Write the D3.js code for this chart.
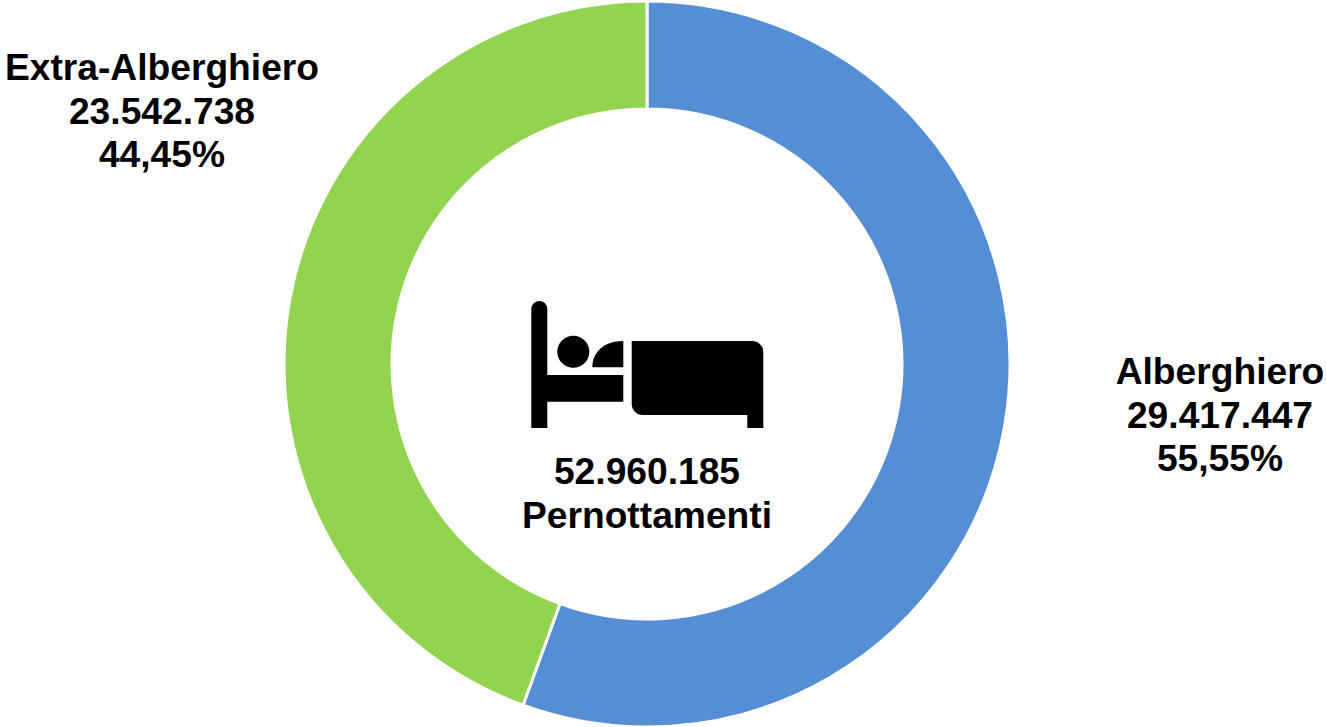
<!DOCTYPE html>
<html><head><meta charset="utf-8">
<script src="https://cdn.jsdelivr.net/npm/d3@7"></script>
<style>html,body{margin:0;padding:0;background:#fff}svg{display:block}
text{font-family:"Liberation Sans",Arial,sans-serif;font-weight:700;font-size:37.2px;fill:#000;text-anchor:middle}</style>
</head><body><svg id="c" width="1326" height="727"></svg>
<script>
const categories=["Alberghiero","Extra-Alberghiero"];
const values=[29417447,23542738];
const valueLabels=["29.417.447","23.542.738"];
const percentLabels=["55,55%","44,45%"];
const colors=["#558ed5","#92d350"];
const centerLabels=["52.960.185","Pernottamenti"];
const svg=d3.select("#c");
const cx=647,cy=364;
const g=svg.append("g").attr("transform",`translate(${cx},${cy})`);
const pie=d3.pie().sort(null)(values);
const arc=d3.arc().innerRadius(255).outerRadius(363);
g.selectAll("path").data(pie).join("path").attr("d",arc)
 .attr("fill",(d,i)=>colors[i]).attr("stroke","#fff").attr("stroke-width",3);
const pos=[[1220,384],[162,80]];
categories.forEach((c,i)=>{
  [c,valueLabels[i],percentLabels[i]].forEach((t,j)=>{
    svg.append("text").attr("x",pos[i][0]).attr("y",pos[i][1]+j*43.5).text(t);
  });
});
centerLabels.forEach((t,j)=>svg.append("text").attr("x",647).attr("y",484+j*43.5).text(t));
// bed icon
const ic=svg.append("g").attr("fill","#000");
ic.append("path").attr("d","M531.3 309a8 8 0 0 1 16 0V375H623.3V401.7H547.3V428H531.3Z");
ic.append("circle").attr("cx",573.3).attr("cy",351.7).attr("r",16);
ic.append("path").attr("d","M592.3 367.3C592.3 352 604 341 623.3 341V367.3Z");
ic.append("path").attr("d","M631.7 341H752.3a11 11 0 0 1 11 11V428H747.3V415H642.7a11 11 0 0 1-11-11Z");
</script></body></html>
